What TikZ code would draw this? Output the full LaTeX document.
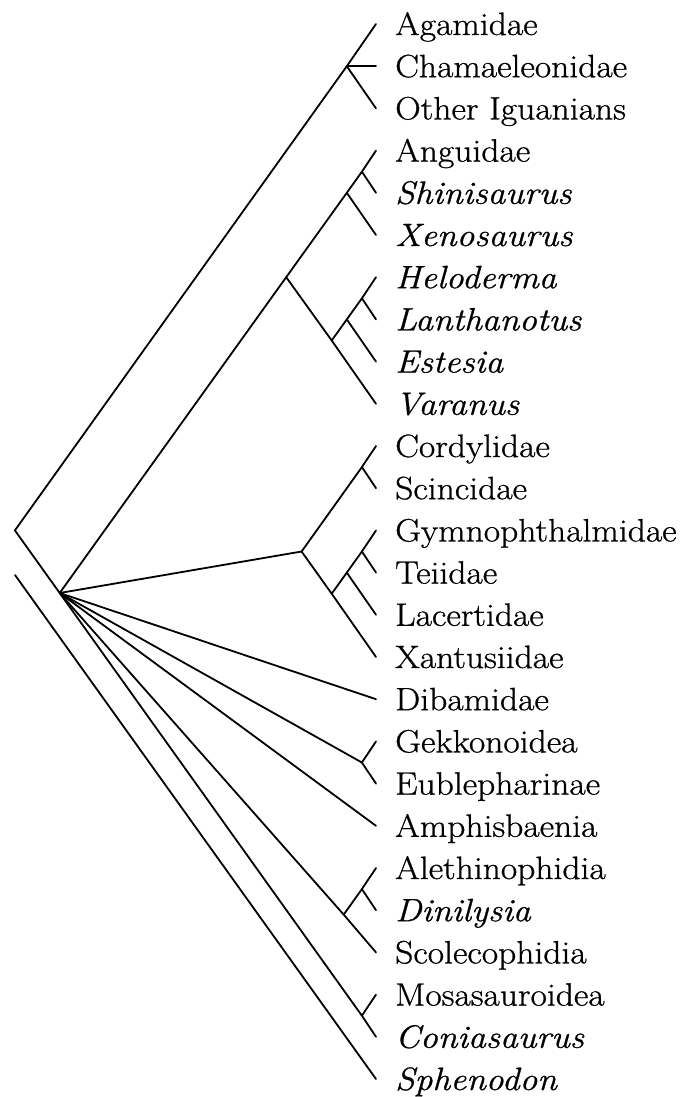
\documentclass[tikz,border=0pt]{standalone}
\usepackage{fontspec}
\setmainfont{Latin Modern Roman}[FakeStretch=1.1,FakeBold=0.8]
\begin{document}
\begin{tikzpicture}[x=1pt,y=-1pt,
  branch/.style={line width=1.8pt,line cap=round,line join=round},
  taxon/.style={anchor=base west,inner sep=0pt,font=\fontsize{32.3}{39}\selectfont}]
\useasboundingbox (0,0) rectangle (683,1097);
% tips
\foreach \n/\i in {tAgam/0,tCham/1,tOther/2,tAngu/3,tShin/4,tXeno/5,tHelo/6,tLant/7,tEste/8,tVara/9,tCord/10,tScin/11,tGymn/12,tTeii/13,tLace/14,tXant/15,tDiba/16,tGekk/17,tEubl/18,tAmph/19,tAlet/20,tDini/21,tScol/22,tMosa/23,tConi/24,tSphe/25}
  \coordinate (\n) at (376,24+42.2*\i);
% labels
\node[taxon] (lAgam) at (395,35) {Agamidae};
\node[taxon] (lCham) at (395,35+42.2) {Chamaeleonidae};
\node[taxon] (lOther) at (395,35+42.2*2) {Other Iguanians};
\node[taxon] (lAngu) at (395,35+42.2*3) {Anguidae};
\node[taxon] (lShin) at (395,35+42.2*4) {\itshape Shinisaurus};
\node[taxon] (lXeno) at (395,35+42.2*5) {\itshape Xenosaurus};
\node[taxon] (lHelo) at (395,35+42.2*6) {\itshape Heloderma};
\node[taxon] (lLant) at (395,35+42.2*7) {\itshape Lanthanotus};
\node[taxon] (lEste) at (395,35+42.2*8) {\itshape Estesia};
\node[taxon] (lVara) at (395,35+42.2*9) {\itshape Varanus};
\node[taxon] (lCord) at (395,35+42.2*10) {Cordylidae};
\node[taxon] (lScin) at (395,35+42.2*11) {Scincidae};
\node[taxon] (lGymn) at (395,35+42.2*12) {Gymnophthalmidae};
\node[taxon] (lTeii) at (395,35+42.2*13) {Teiidae};
\node[taxon] (lLace) at (395,35+42.2*14) {Lacertidae};
\node[taxon] (lXant) at (395,35+42.2*15) {Xantusiidae};
\node[taxon] (lDiba) at (395,35+42.2*16) {Dibamidae};
\node[taxon] (lGekk) at (395,35+42.2*17) {Gekkonoidea};
\node[taxon] (lEubl) at (395,35+42.2*18) {Eublepharinae};
\node[taxon] (lAmph) at (395,35+42.2*19) {Amphisbaenia};
\node[taxon] (lAlet) at (395,35+42.2*20) {Alethinophidia};
\node[taxon] (lDini) at (395,35+42.2*21) {\itshape Dinilysia};
\node[taxon] (lScol) at (395,35+42.2*22) {Scolecophidia};
\node[taxon] (lMosa) at (395,35+42.2*23) {Mosasauroidea};
\node[taxon] (lConi) at (395,35+42.2*24) {\itshape Coniasaurus};
\node[taxon] (lSphe) at (395,35+42.2*25) {\itshape Sphenodon};
% internal nodes
\coordinate (root) at (14.9,530.4);
\coordinate (nIgu) at (346.8,66.2);
\coordinate (nScl) at (59.7,593);
\coordinate (nAng) at (286.2,277.2);
\coordinate (nXen) at (346.8,192.8);
\coordinate (nShi) at (361.9,171.7);
\coordinate (nVar) at (331.7,340.5);
\coordinate (nEst) at (346.8,319.4);
\coordinate (nLan) at (361.9,298.3);
\coordinate (nCor) at (301.6,551.5);
\coordinate (nSci) at (361.9,467.1);
\coordinate (nLac) at (331.7,593.7);
\coordinate (nLce) at (346.8,572.6);
\coordinate (nTei) at (361.9,551.5);
\coordinate (nGek) at (361.9,762.5);
\coordinate (nSna) at (343.7,914.6);
\coordinate (nDin) at (361.9,889.1);
\coordinate (nMos) at (361.9,1015.7);
\coordinate (sphStart) at (15,575);
% branches
\draw[branch] (root) -- (nIgu) -- (tAgam);
\draw[branch] (nIgu) -- (tCham);
\draw[branch] (nIgu) -- (tOther);
\draw[branch] (root) -- (nScl) -- (nMos) -- (tConi);
\draw[branch] (nMos) -- (tMosa);
\draw[branch] (nScl) -- (nAng) -- (nXen) -- (nShi) -- (tAngu);
\draw[branch] (nXen) -- (tXeno);
\draw[branch] (nShi) -- (tShin);
\draw[branch] (nAng) -- (nVar) -- (tVara);
\draw[branch] (nVar) -- (nEst) -- (nLan) -- (tHelo);
\draw[branch] (nEst) -- (tEste);
\draw[branch] (nLan) -- (tLant);
\draw[branch] (nScl) -- (nCor);
\draw[branch] (nCor) -- (nSci) -- (tCord);
\draw[branch] (nSci) -- (tScin);
\draw[branch] (nCor) -- (nLac) -- (tXant);
\draw[branch] (nLac) -- (nLce) -- (nTei) -- (tGymn);
\draw[branch] (nLce) -- (tLace);
\draw[branch] (nTei) -- (tTeii);
\draw[branch] (nScl) -- (tDiba);
\draw[branch] (nScl) -- (nGek);
\draw[branch] (nGek) -- (tGekk);
\draw[branch] (nGek) -- (tEubl);
\draw[branch] (nScl) -- (tAmph);
\draw[branch] (nScl) -- (nSna) -- (tScol);
\draw[branch] (nSna) -- (nDin) -- (tAlet);
\draw[branch] (nDin) -- (tDini);
\draw[branch] (sphStart) -- (tSphe);
\end{tikzpicture}
\end{document}
